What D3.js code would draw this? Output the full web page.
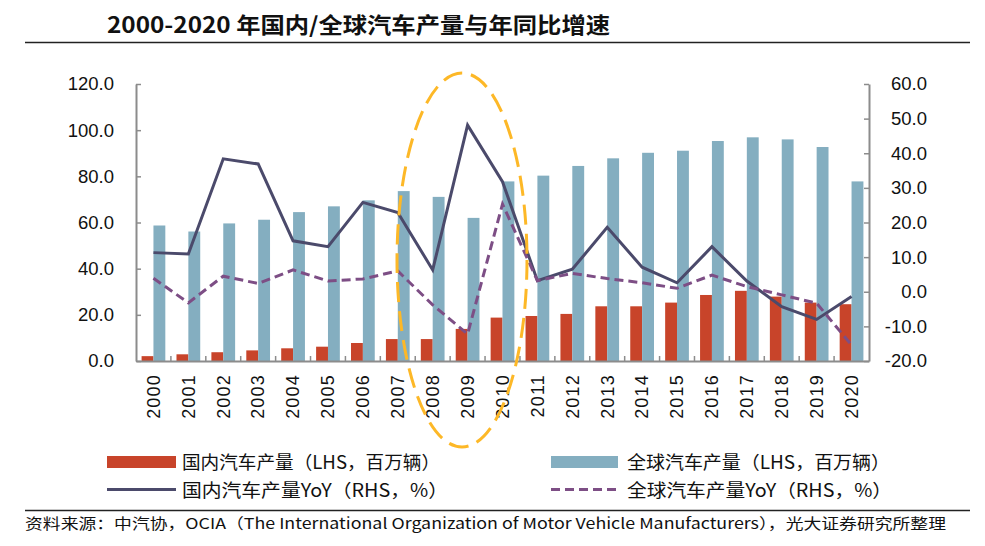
<!DOCTYPE html>
<html><head><meta charset="utf-8">
<script src="https://cdn.jsdelivr.net/npm/d3@7"></script>
<style>body{margin:0;background:#fff}svg{display:block}</style>
</head><body>
<script>
const years = ["2000","2001","2002","2003","2004","2005","2006","2007","2008","2009","2010","2011","2012","2013","2014","2015","2016","2017","2018","2019","2020"];
const chinaProd = [2.1,2.9,3.8,4.6,5.5,6.2,7.8,9.5,9.5,13.9,18.8,19.5,20.4,23.7,23.7,25.3,28.6,30.4,27.9,25.3,24.6];
const globalProd = [58.7,56.1,59.6,61.2,64.5,67.0,69.6,73.6,71.1,62.0,77.8,80.3,84.5,87.8,90.2,91.1,95.3,96.9,96.0,92.7,77.8];
const chinaYoY = [11.3,10.9,38.4,36.9,14.7,13.0,25.8,22.9,6.3,48.1,31.8,3.2,6.5,18.6,7.1,2.6,13.0,3.1,-4.3,-8.0,-1.4];
const globalYoY = [3.9,-3.2,4.5,2.4,6.3,3.1,3.7,6.0,-3.8,-12.2,25.3,3.2,5.3,3.8,2.6,1.0,4.8,1.5,-0.9,-3.3,-15.4];
const leftTicks = [0,20,40,60,80,100,120];
const rightTicks = [-20,-10,0,10,20,30,40,50,60];
const title = "2000-2020 年国内/全球汽车产量与年同比增速";
const legendLabels = ["国内汽车产量（LHS，百万辆）","全球汽车产量（LHS，百万辆）","国内汽车产量YoY（RHS，%）","全球汽车产量YoY（RHS，%）"];
const source = "资料来源：中汽协，OCIA（The International Organization of Motor Vehicle Manufacturers），光大证券研究所整理";

const W = 985, H = 546;
const C = {red:"#C8442A", blue:"#84AEC0", line:"#4B4A6B", dash:"#7D4E85", axis:"#8c8c8c", yellow:"#FDB827"};
const svg = d3.select("body").append("svg").attr("width",W).attr("height",H);
const cjk = "'Noto Sans CJK SC','Noto Sans',sans-serif";
const num = "'Liberation Sans',Arial,sans-serif";
const fmt = v => d3.format(".1f")(v).replace("\u2212","-");

// title
svg.append("text").attr("x",107).attr("y",33).attr("font-family",cjk).attr("font-weight","bold")
  .attr("font-size",22).attr("textLength",503).attr("lengthAdjust","spacingAndGlyphs").attr("fill","#111").text(title);
svg.append("line").attr("x1",25).attr("x2",970).attr("y1",42.5).attr("y2",42.5).attr("stroke","#222").attr("stroke-width",1.5);

const x0 = 136, x1 = 869, yTop = 84, yBot = 361;
const x = d3.scaleBand().domain(years).range([x0,x1]).padding(0);
const yL = d3.scaleLinear().domain([0,120]).range([yBot,yTop]);
const yR = d3.scaleLinear().domain([-20,60]).range([yBot,yTop]);
const bw = x.bandwidth()*0.34;

const g = svg.append("g");
g.selectAll("rect.c").data(years).join("rect").attr("class","c")
  .attr("x",d=>x(d)+x.bandwidth()/2-bw).attr("width",bw)
  .attr("y",(d,i)=>yL(chinaProd[i])).attr("height",(d,i)=>yBot-yL(chinaProd[i])).attr("fill",C.red);
g.selectAll("rect.g").data(years).join("rect").attr("class","g")
  .attr("x",d=>x(d)+x.bandwidth()/2).attr("width",bw)
  .attr("y",(d,i)=>yL(globalProd[i])).attr("height",(d,i)=>yBot-yL(globalProd[i])).attr("fill",C.blue);

// axes
const axL = d3.axisLeft(yL).tickValues(leftTicks).tickFormat(fmt).tickSizeInner(-5).tickSizeOuter(0).tickPadding(22);
const axR = d3.axisRight(yR).tickValues(rightTicks).tickFormat(fmt).tickSizeInner(-5).tickSizeOuter(0).tickPadding(9);
const axB = d3.axisBottom(x).tickSize(0).tickFormat(d=>d);
function style(sel){
  sel.select(".domain").attr("stroke",C.axis).attr("stroke-width",2);
  sel.selectAll(".tick line").attr("stroke",C.axis).attr("stroke-width",1.5);
  sel.selectAll("text").attr("font-family",num).attr("font-size",18.5).attr("fill","#111");
}
const gl = svg.append("g").attr("transform",`translate(${x0},0)`).call(axL); style(gl);
const gr = svg.append("g").attr("transform",`translate(${x1},0)`).call(axR); style(gr);
gr.selectAll(".tick text").attr("text-anchor","end").attr("x",58);
const gb = svg.append("g").attr("transform",`translate(0,${yBot})`).call(axB); style(gb);
gb.selectAll(".tick text").attr("font-size",18).attr("letter-spacing",1.2).attr("transform","rotate(-90)").attr("text-anchor","end")
  .attr("x",-13).attr("y",0).attr("dy","0.35em");
gb.selectAll("line.bt").data(years.slice(1)).join("line").attr("class","bt")
  .attr("x1",d=>x(d)).attr("x2",d=>x(d)).attr("y1",0).attr("y2",-5).attr("stroke",C.axis).attr("stroke-width",1.5);

// lines
const lineC = d3.line().x((d,i)=>x(years[i])+x.bandwidth()/2).y(d=>yR(d));
svg.append("path").datum(chinaYoY).attr("d",lineC).attr("fill","none").attr("stroke",C.line).attr("stroke-width",3).attr("stroke-linejoin","miter");
svg.append("path").datum(globalYoY).attr("d",lineC).attr("fill","none").attr("stroke",C.dash).attr("stroke-width",3).attr("stroke-dasharray","9,5");

// highlight ellipse
svg.append("ellipse").attr("cx",462).attr("cy",260).attr("rx",65).attr("ry",187)
  .attr("fill","none").attr("stroke",C.yellow).attr("stroke-width",3).attr("stroke-dasharray","20,9");

// legend
const lg = svg.append("g");
lg.append("rect").attr("x",107).attr("y",456).attr("width",69).attr("height",12).attr("fill",C.red);
lg.append("rect").attr("x",551).attr("y",456).attr("width",67).attr("height",12).attr("fill",C.blue);
lg.append("line").attr("x1",107).attr("x2",176).attr("y1",489.5).attr("y2",489.5).attr("stroke",C.line).attr("stroke-width",3);
lg.append("line").attr("x1",551).attr("x2",618).attr("y1",489.5).attr("y2",489.5).attr("stroke",C.dash).attr("stroke-width",3).attr("stroke-dasharray","9,5");
const lpos = [[182,469,258],[627,469,263],[182,497,266],[627,497,265]];
lg.selectAll("text").data(legendLabels).join("text").attr("x",(d,i)=>lpos[i][0]).attr("y",(d,i)=>lpos[i][1])
  .attr("textLength",(d,i)=>lpos[i][2]).attr("lengthAdjust","spacingAndGlyphs")
  .attr("font-family",cjk).attr("font-size",18).attr("fill","#111").text(d=>d);

// source
svg.append("line").attr("x1",25).attr("x2",970).attr("y1",510.5).attr("y2",510.5).attr("stroke","#222").attr("stroke-width",1.5);
svg.append("text").attr("x",25).attr("y",529).attr("font-family",cjk).attr("font-size",15)
  .attr("textLength",921).attr("lengthAdjust","spacingAndGlyphs").attr("fill","#111").text(source);
</script>
</body></html>
